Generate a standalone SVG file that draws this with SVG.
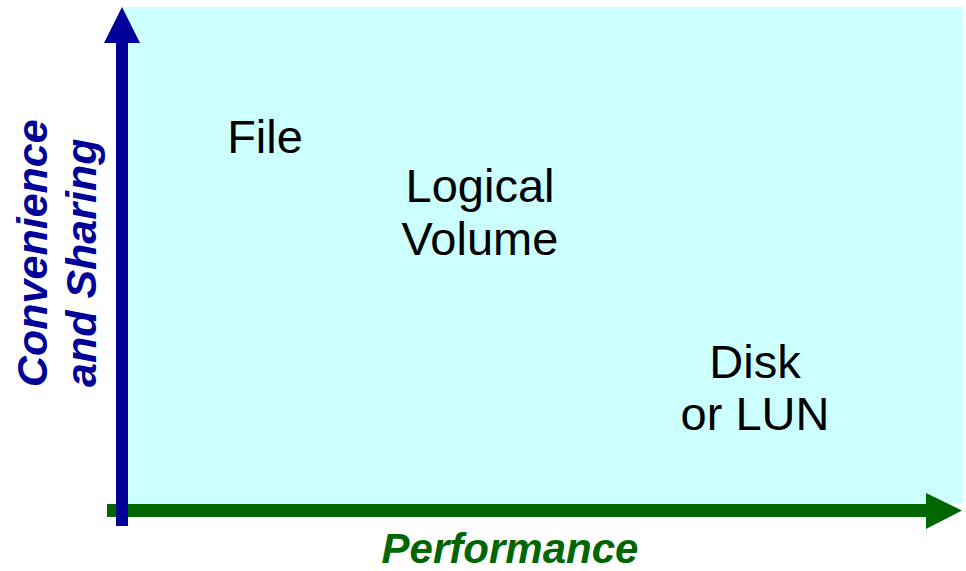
<svg xmlns="http://www.w3.org/2000/svg" width="966" height="571" viewBox="0 0 966 571">
<style>
.node{font-family:"Liberation Sans",Arial,sans-serif;font-size:47px;fill:#000;text-anchor:middle}
.ax{font-family:"Liberation Sans",Arial,sans-serif;font-weight:bold;font-style:italic}
.blue{fill:#000099}
.green{fill:#006600}
</style>
<rect id="background" x="122" y="7" width="841" height="497" fill="#CCFFFF"/>
<g id="connectors">
<polygon class="green" points="107,504 926,504 926,493 962,510.5 926,529 926,517 107,517"/>
<polygon class="blue" points="116,526 116,43 104,43 122,7 140,43 128,43 128,526"/>
</g>
<g id="file"><text class="node" x="265" y="153">File</text></g>
<g id="logical-volume"><text class="node" x="480" y="202">Logical</text><text class="node" x="480" y="255">Volume</text></g>
<g id="disk-lun"><text class="node" x="755" y="378">Disk</text><text class="node" x="755" y="430">or LUN</text></g>
<g id="y-label"><text class="ax blue" font-size="43" transform="translate(47,387) rotate(-90)"><tspan x="0" y="0">Convenience</tspan><tspan x="0" y="49">and Sharing</tspan></text></g>
<g id="x-label"><text class="ax green" font-size="42" x="510" y="563" text-anchor="middle">Performance</text></g>
</svg>
